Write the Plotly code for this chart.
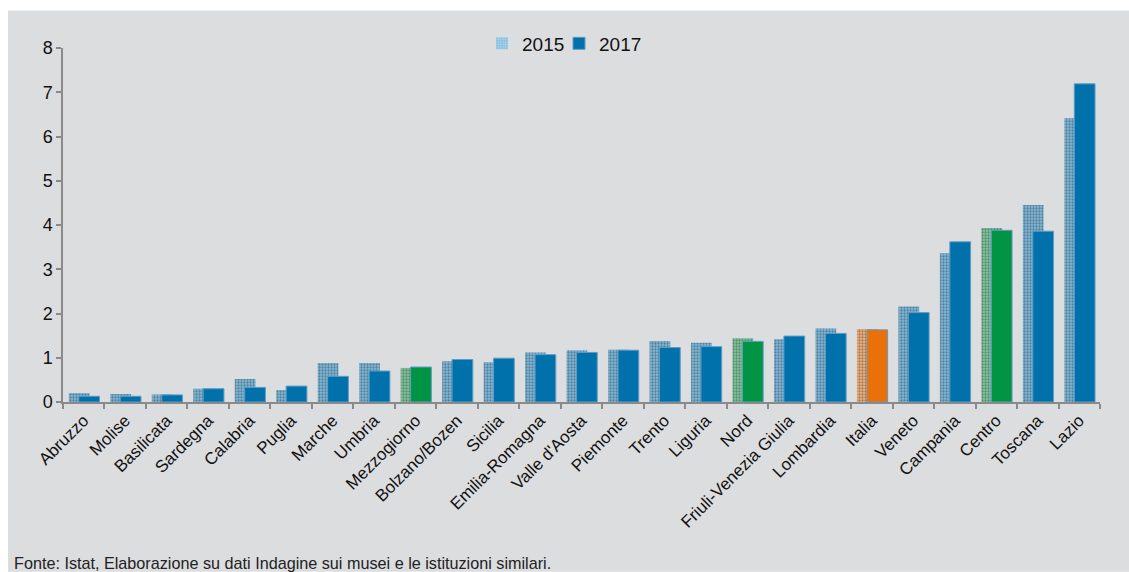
import plotly.graph_objects as go

regions = ["Abruzzo", "Molise", "Basilicata", "Sardegna", "Calabria", "Puglia", "Marche",
           "Umbria", "Mezzogiorno", "Bolzano/Bozen", "Sicilia", "Emilia-Romagna",
           "Valle d'Aosta", "Piemonte", "Trento", "Liguria", "Nord",
           "Friuli-Venezia Giulia", "Lombardia", "Italia", "Veneto", "Campania",
           "Centro", "Toscana", "Lazio"]
v2015 = [0.20, 0.18, 0.17, 0.30, 0.52, 0.27, 0.88, 0.88, 0.77, 0.92, 0.90, 1.12,
         1.17, 1.18, 1.38, 1.34, 1.44, 1.42, 1.66, 1.65, 2.16, 3.36, 3.93, 4.45, 6.41]
v2017 = [0.13, 0.13, 0.16, 0.30, 0.33, 0.36, 0.58, 0.70, 0.79, 0.96, 0.99, 1.07,
         1.12, 1.17, 1.23, 1.25, 1.37, 1.49, 1.55, 1.63, 2.02, 3.62, 3.88, 3.86, 7.19]
series_names = ["2015", "2017"]
y_ticks = [0, 1, 2, 3, 4, 5, 6, 7, 8]
source_note = "Fonte: Istat, Elaborazione su dati Indagine sui musei e le istituzioni similari."

BLUE = "#0071AB"
GREEN = "#009444"
ORANGE = "#EA700A"
LIGHT = {BLUE: "#7BB9DE", GREEN: "#7CC89C", ORANGE: "#F5B378"}

def base_color(name):
    if name in ("Mezzogiorno", "Nord", "Centro"):
        return GREEN
    if name == "Italia":
        return ORANGE
    return BLUE

c17 = [base_color(r) for r in regions]
c15 = [LIGHT[c] for c in c17]

BG = "#DCDDDF"

fig = go.Figure()
fig.add_trace(go.Bar(
    x=regions, y=v2015, name=series_names[0], legend="legend",
    width=0.5, offset=-0.36,
    marker=dict(color=c15,
                line=dict(width=0),
                pattern=dict(shape=".", fgcolor="#F4F8FB", size=3, solidity=0.45,
                             fillmode="overlay")),
))
fig.add_trace(go.Bar(
    x=regions, y=v2017, name=series_names[1], legend="legend2",
    width=0.5, offset=-0.12,
    marker=dict(color=c17, line=dict(width=1, color="#5E9CC6")),
))

# gray panel
L, R, T, B = 63, 1100, 47.5, 402
pw, ph = R - L, B - T
fig.add_shape(type="rect", xref="paper", yref="paper",
              x0=(8 - L) / pw, x1=(1129 - L) / pw,
              y0=(B - 572) / ph, y1=(B - 10) / ph,
              fillcolor=BG, line=dict(width=0), layer="below")

fig.add_annotation(text=source_note, xref="paper", yref="paper",
                   x=(12 - L) / pw, y=(B - 563) / ph, xanchor="left", yanchor="middle",
                   showarrow=False,
                   font=dict(family="Liberation Sans, Arial, sans-serif",
                             size=16.2, color="#222222"))

leg_common = dict(orientation="h", yanchor="middle", y=(B - 43) / ph,
                  bgcolor="rgba(0,0,0,0)", font=dict(size=19), itemwidth=30,
                  xanchor="left")

fig.update_layout(
    width=1129, height=572,
    margin=dict(l=L, r=1129 - R, t=T, b=572 - B, autoexpand=False),
    paper_bgcolor="white", plot_bgcolor=BG,
    barmode="overlay",
    font=dict(family="Liberation Sans, Arial, sans-serif", size=17, color="#111111"),
    showlegend=True,
    legend=dict(x=(482 - L) / pw, **leg_common),
    legend2=dict(x=(559 - L) / pw, **leg_common),
    xaxis=dict(range=[-0.5, 24.5], tickangle=-45, tickson="boundaries",
               ticks="outside", ticklen=5, tickcolor="#8A8A8A", tickwidth=2,
               showline=True, linecolor="#8A8A8A", linewidth=2,
               showgrid=False, tickfont=dict(size=17), automargin=False),
    yaxis=dict(range=[0, 8], tickvals=y_ticks, ticks="outside", ticklen=5,
               tickcolor="#8A8A8A", tickwidth=1.5,
               showline=True, linecolor="#8A8A8A", linewidth=1.5,
               showgrid=False, zeroline=False, tickfont=dict(size=18), automargin=False),
)

fig.write_html("out.html", config={"displayModeBar": False},
               post_script="document.body.style.margin='0px';")
